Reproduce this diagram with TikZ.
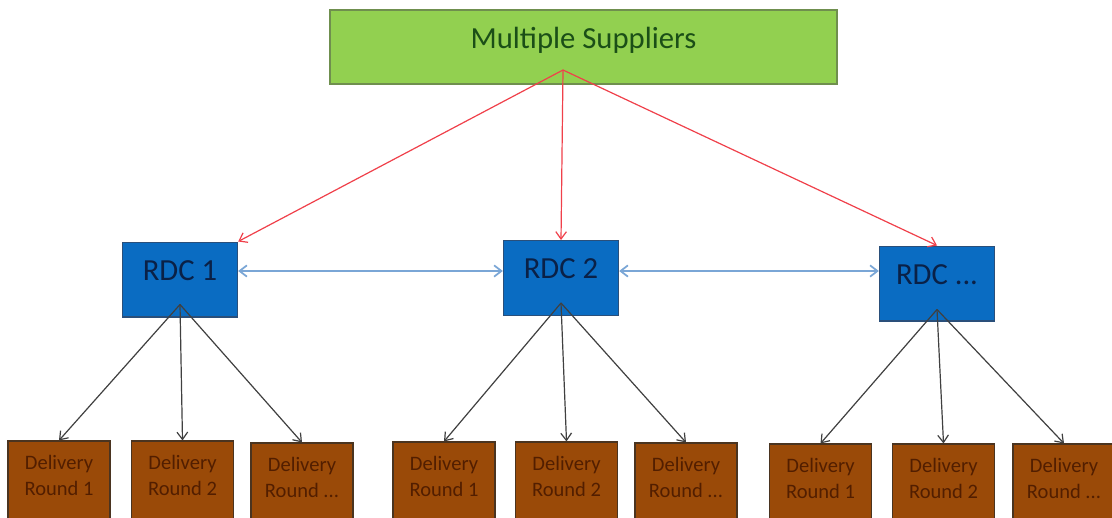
\documentclass[tikz,border=0pt]{standalone}
\usepackage{fontspec}
\setmainfont{Carlito}
\usetikzlibrary{arrows.meta,calc}
\definecolor{supfill}{HTML}{92D050}
\definecolor{supdraw}{HTML}{6F8F4E}
\definecolor{suptext}{HTML}{1B4F17}
\definecolor{rdcfill}{HTML}{0A6CC2}
\definecolor{rdcdraw}{HTML}{2A4F7A}
\definecolor{rdctext}{HTML}{0A2147}
\definecolor{delfill}{HTML}{9A4A08}
\definecolor{deldraw}{HTML}{4A3420}
\definecolor{deltext}{HTML}{521E00}
\definecolor{redarrow}{HTML}{F0404A}
\definecolor{bluearrow}{HTML}{7AA6D6}
\definecolor{blackarrow}{HTML}{404040}
\tikzset{
  supbox/.style={draw=supdraw, fill=supfill, line width=1pt, minimum width=380.25pt, minimum height=55.5pt,
    text=suptext, font=\fontsize{23}{26}\selectfont, text height=0.8em, text depth=0.6em, inner sep=0pt},
  rdcbox/.style={draw=rdcdraw, fill=rdcfill, line width=1pt, minimum width=86.25pt, minimum height=56pt,
    text=rdctext, font=\fontsize{23}{26}\selectfont, text height=0.65em, text depth=0.55em, inner sep=0pt},
  delbox/.style={draw=deldraw, fill=delfill, line width=0.8pt, minimum width=76.5pt, minimum height=59.25pt,
    text=deltext, font=\fontsize{15.4}{20}\selectfont, align=center, text depth=7.5pt, inner sep=0pt},
  redarr/.style={draw=redarrow, line width=0.9pt, -{Straight Barb[length=5.5pt,width=8pt]}},
  bluearr/.style={draw=bluearrow, line width=1.3pt, {Straight Barb[length=5.5pt,width=8.5pt]}-{Straight Barb[length=5.5pt,width=8.5pt]}},
  blkarr/.style={draw=blackarrow, line width=0.9pt, -{Straight Barb[length=5.5pt,width=8pt]}},
}
\begin{document}
\begin{tikzpicture}[x=0.75pt,y=-0.75pt]
\clip (0,0) rectangle (1112,517);
\fill[white] (0,0) rectangle (1112,517);

\node[supbox] (sup) at (583.5,47) {Multiple Suppliers};
\coordinate (src) at (563,70);

\node[rdcbox] (r1) at (180,279.5) {RDC 1};
\node[rdcbox] (r2) at (561,278) {RDC 2};
\node[rdcbox] (r3) at (937,283.5) {RDC ...};

\node[delbox] (d11) at (59,480.5) {Delivery\\Round 1};
\node[delbox] (d12) at (182.5,480.5) {Delivery\\Round 2};
\node[delbox] (d13) at (302,482.5) {Delivery\\Round ...};
\node[delbox] (d21) at (444,481.5) {Delivery\\Round 1};
\node[delbox] (d22) at (566.5,481.5) {Delivery\\Round 2};
\node[delbox] (d23) at (686,482.5) {Delivery\\Round ...};
\node[delbox] (d31) at (820.5,483.5) {Delivery\\Round 1};
\node[delbox] (d32) at (943.5,483.5) {Delivery\\Round 2};
\node[delbox] (d33) at (1064,483.5) {Delivery\\Round ...};

\draw[redarr] (src) -- (r1.north east);
\draw[redarr] (src) -- (r2.north);
\draw[redarr] (src) -- (r3.north);

\coordinate (b1) at ($(r1.east)+(0,-8.5)$);
\coordinate (b2) at ($(r2.east)+(0,-7)$);
\draw[bluearr] (b1) -- (b1 -| r2.west);
\draw[bluearr] (b2) -- (b2 -| r3.west);

\coordinate (a1) at ($(r1.south)+(0,-13)$);
\coordinate (a2) at ($(r2.south)+(0,-13)$);
\coordinate (a3) at ($(r3.south)+(0,-12)$);
\foreach \i in {1,2,3} {
  \draw[blkarr] (a1) -- (d1\i.north);
  \draw[blkarr] (a2) -- (d2\i.north);
  \draw[blkarr] (a3) -- (d3\i.north);
}
\end{tikzpicture}
\end{document}
